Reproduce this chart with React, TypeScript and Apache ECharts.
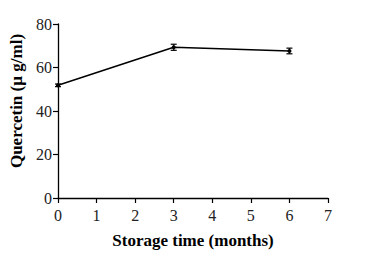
import React, { useEffect, useRef } from "react";
import * as echarts from "echarts";

const months = [0, 3, 6];
const quercetin = [51.8, 69.3, 67.6];
const errors = [0.6, 1.4, 1.3];
const xTicks = [0, 1, 2, 3, 4, 5, 6, 7];
const yTicks = [0, 20, 40, 60, 80];

export default function App() {
  const ref = useRef<HTMLDivElement>(null);
  useEffect(() => {
    const chart = echarts.init(ref.current!, null, { renderer: "svg" });
    const font = "'Liberation Serif', 'Times New Roman', serif";
    const axisCommon = {
      axisLine: { show: true, lineStyle: { color: "#000", width: 1.3 } },
      axisTick: { show: true, length: 5, lineStyle: { color: "#000", width: 1.2 } },
      splitLine: { show: false },
      axisLabel: { color: "#222", fontFamily: font, fontSize: 16, margin: 6 },
      nameTextStyle: { color: "#000", fontFamily: font, fontSize: 17, fontWeight: "bold" },
    };
    chart.setOption({
      animation: false,
      backgroundColor: "#fff",
      grid: { left: 58, right: 40, top: 24, bottom: 64, containLabel: false, outerBoundsMode: "none" },
      xAxis: {
        type: "value",
        min: xTicks[0],
        max: xTicks[xTicks.length - 1],
        interval: 1,
        name: "Storage time (months)",
        nameLocation: "middle",
        nameGap: 34,
        ...axisCommon,
        axisLabel: { ...axisCommon.axisLabel, margin: 9 },
      },
      yAxis: {
        type: "value",
        min: yTicks[0],
        max: yTicks[yTicks.length - 1],
        interval: 20,
        name: "Quercetin (\u00b5 g/ml)",
        nameLocation: "middle",
        nameGap: 30,
        ...axisCommon,
        nameTextStyle: { ...axisCommon.nameTextStyle, padding: [0, 0, 0, 20] },
      },
      series: [
        {
          type: "line",
          data: months.map((m, i) => [m, quercetin[i]]),
          symbol: "circle",
          symbolSize: 4,
          lineStyle: { color: "#000", width: 1.5 },
          itemStyle: { color: "#000" },
          z: 3,
        },
        {
          type: "custom",
          data: months.map((m, i) => [m, quercetin[i] - errors[i], quercetin[i] + errors[i]]),
          renderItem: (params: any, api: any) => {
            const x = api.value(0);
            const lo = api.coord([x, api.value(1)]);
            const hi = api.coord([x, api.value(2)]);
            const w = 3;
            const style = { stroke: "#000", lineWidth: 1.2 };
            return {
              type: "group",
              children: [
                { type: "line", shape: { x1: lo[0], y1: lo[1], x2: hi[0], y2: hi[1] }, style },
                { type: "line", shape: { x1: lo[0] - w, y1: lo[1], x2: lo[0] + w, y2: lo[1] }, style },
                { type: "line", shape: { x1: hi[0] - w, y1: hi[1], x2: hi[0] + w, y2: hi[1] }, style },
              ],
            };
          },
          z: 4,
        },
      ],
    });
    return () => chart.dispose();
  }, []);
  return <div ref={ref} style={{ width: 368, height: 262, position: "absolute", left: 0, top: 0 }} />;
}
